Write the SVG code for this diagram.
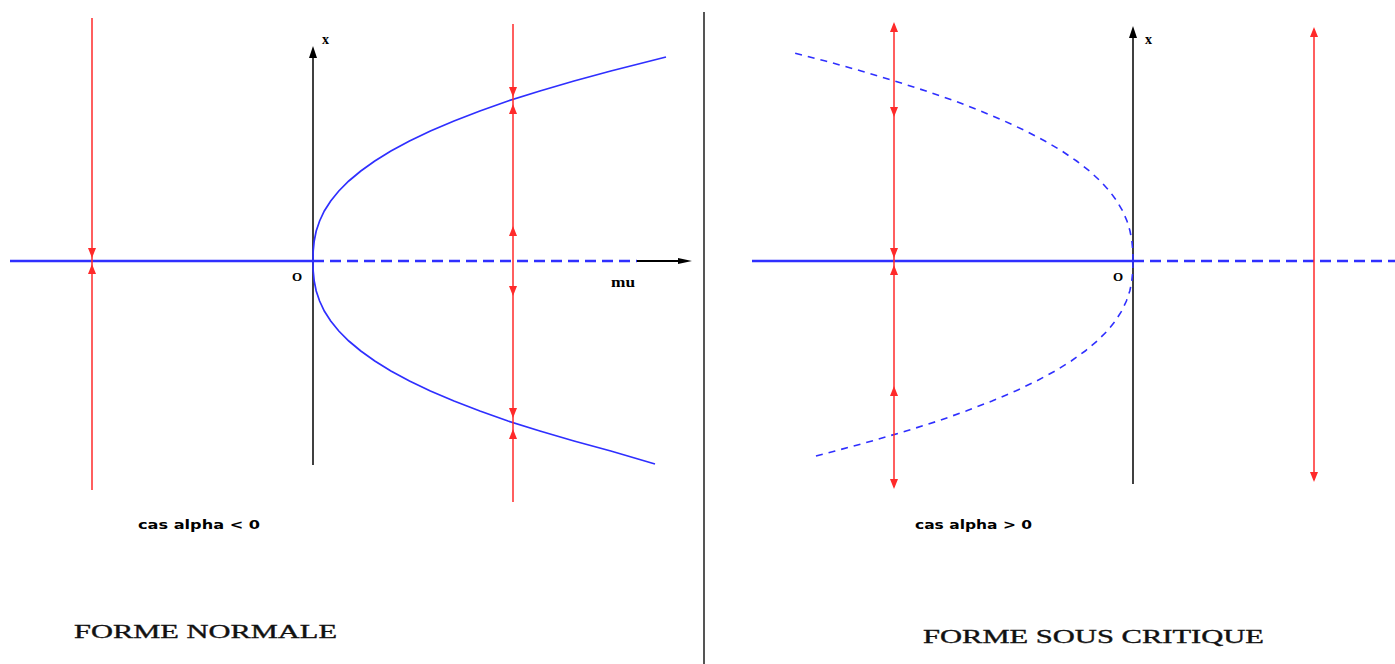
<svg xmlns="http://www.w3.org/2000/svg" xmlns:xlink="http://www.w3.org/1999/xlink" width="1395" height="664" viewBox="0 0 1395 664">
<style>
.bl{stroke:#2f2fff;fill:none}
.axis{stroke:#2f2fff;stroke-width:2.5;fill:none}
.dash{stroke-dasharray:11 6}
.cdash{stroke-dasharray:7 6}
.red{stroke:#ff2a2a;stroke-width:1.5;fill:none}
.blk{stroke:#000;stroke-width:1.5;fill:none}
.lbl{font-family:"Liberation Serif",serif;fill:#000}
.cas{font-family:"DejaVu Sans",sans-serif;font-size:13px;fill:#000;font-weight:bold}
.title{font-family:"Liberation Serif",serif;font-size:19px;fill:#111;stroke:#111;stroke-width:0.35}
</style>
<defs>
<path id="ad" d="M0,0 L-4,-10 L4,-10 Z" fill="#ff2a2a"/>
<path id="au" d="M0,0 L-4,10 L4,10 Z" fill="#ff2a2a"/>
<path id="bu" d="M0,0 L-4,12 L4,12 Z" fill="#000"/>
<path id="br" d="M0,0 L-14,-3 L-14,3 Z" fill="#000"/>
</defs>
<rect width="1395" height="664" fill="#fff"/>

<g id="divider"><line x1="704" y1="12" x2="704" y2="664" stroke="#555" stroke-width="2"/></g>

<g id="left-panel">
  <g id="left-axes">
    <line class="blk" x1="313" y1="465" x2="313" y2="52"/>
    <use xlink:href="#bu" x="313" y="46"/>
    <line x1="637" y1="261" x2="680" y2="261" stroke="#000" stroke-width="2"/>
    <use xlink:href="#br" x="692" y="261"/>
    <line class="axis" x1="10" y1="261" x2="313" y2="261"/>
    <line class="axis dash" x1="313" y1="261" x2="637" y2="261"/>
  </g>
  <g id="left-branch">
    <polyline class="bl" stroke-width="1.7" points="313,261 313.2,251 314.2,241 316.2,231 319.6,221 324.3,211 330.7,201 338.8,191 348.8,181 360.8,171 374.8,161 390.9,151 409.5,141 430.4,131 454,121 479.9,111 508,101 539.9,91 574,81 610.8,71 666,57"/>
    <polyline class="bl" stroke-width="1.7" points="313,261 313.2,271 314.2,281 316.2,291 319.6,301 324.3,311 330.7,321 338.8,331 348.8,341 360.8,351 374.8,361 390.9,371 409.5,381 430.4,391 454,401 479.9,411 508,421 539.9,431 574,441 610.8,451 655,464"/>
  </g>
  <g id="left-flows">
    <line class="red" x1="92" y1="18" x2="92" y2="490"/>
    <use xlink:href="#ad" x="92" y="258"/>
    <use xlink:href="#au" x="92" y="264"/>
    <line class="red" x1="513" y1="24" x2="513" y2="502"/>
    <use xlink:href="#ad" x="513" y="97"/>
    <use xlink:href="#au" x="513" y="104"/>
    <use xlink:href="#au" x="513" y="226"/>
    <use xlink:href="#ad" x="513" y="296"/>
    <use xlink:href="#ad" x="513" y="418"/>
    <use xlink:href="#au" x="513" y="429"/>
  </g>
  <g id="left-labels">
    <text class="lbl" x="322" y="44" font-size="14" font-weight="bold">x</text>
    <text class="lbl" x="292" y="281" font-size="13" font-weight="bold">O</text>
    <text class="lbl" x="611" y="287" font-size="14" font-weight="bold" textLength="24" lengthAdjust="spacingAndGlyphs">mu</text>
    <text class="cas" x="138" y="529" textLength="122" lengthAdjust="spacingAndGlyphs">cas alpha &lt; 0</text>
    <text class="title" x="74" y="638" textLength="263" lengthAdjust="spacingAndGlyphs">FORME NORMALE</text>
  </g>
</g>

<g id="right-panel">
  <g id="right-axes">
    <line class="blk" x1="1133" y1="484" x2="1133" y2="32"/>
    <use xlink:href="#bu" x="1133" y="26"/>
    <line class="axis" x1="752" y1="261" x2="1133" y2="261"/>
    <line class="axis dash" x1="1133" y1="261" x2="1395" y2="261"/>
  </g>
  <g id="right-branch">
    <polyline class="bl cdash" stroke-width="1.6" points="1133,261 1132.8,251 1131.9,241 1130,231 1127,221 1122.7,211 1116.8,201 1109.5,191 1100.3,181 1089.4,171 1076.6,161 1061.9,151 1044.9,141 1025.9,131 1004.3,121 980.7,111 955,101 926,91 894.8,81 861.2,71 825.5,61 790,52"/>
    <polyline class="bl cdash" stroke-width="1.6" points="1133,261 1132.8,271 1131.8,281 1129.8,291 1126.4,301 1121.7,311 1115.3,321 1107.2,331 1097.2,341 1085.2,351 1071.2,361 1055.1,371 1036.5,381 1015.6,391 992,401 966.1,411 938,421 906.1,431 872,441 835.2,451 812,457"/>
  </g>
  <g id="right-flows">
    <line class="red" x1="894" y1="24" x2="894" y2="487"/>
    <use xlink:href="#au" x="894" y="22"/>
    <use xlink:href="#ad" x="894" y="117"/>
    <use xlink:href="#ad" x="894" y="258"/>
    <use xlink:href="#au" x="894" y="265"/>
    <use xlink:href="#au" x="894" y="386"/>
    <use xlink:href="#ad" x="894" y="489"/>
    <line class="red" x1="1314" y1="29" x2="1314" y2="480"/>
    <use xlink:href="#au" x="1314" y="27"/>
    <use xlink:href="#ad" x="1314" y="482"/>
  </g>
  <g id="right-labels">
    <text class="lbl" x="1145" y="44" font-size="14" font-weight="bold">x</text>
    <text class="lbl" x="1113" y="281" font-size="13" font-weight="bold">O</text>
    <text class="cas" x="915" y="529" textLength="117" lengthAdjust="spacingAndGlyphs">cas alpha &gt; 0</text>
    <text class="title" x="923" y="643" textLength="341" lengthAdjust="spacingAndGlyphs">FORME SOUS CRITIQUE</text>
  </g>
</g>
</svg>
